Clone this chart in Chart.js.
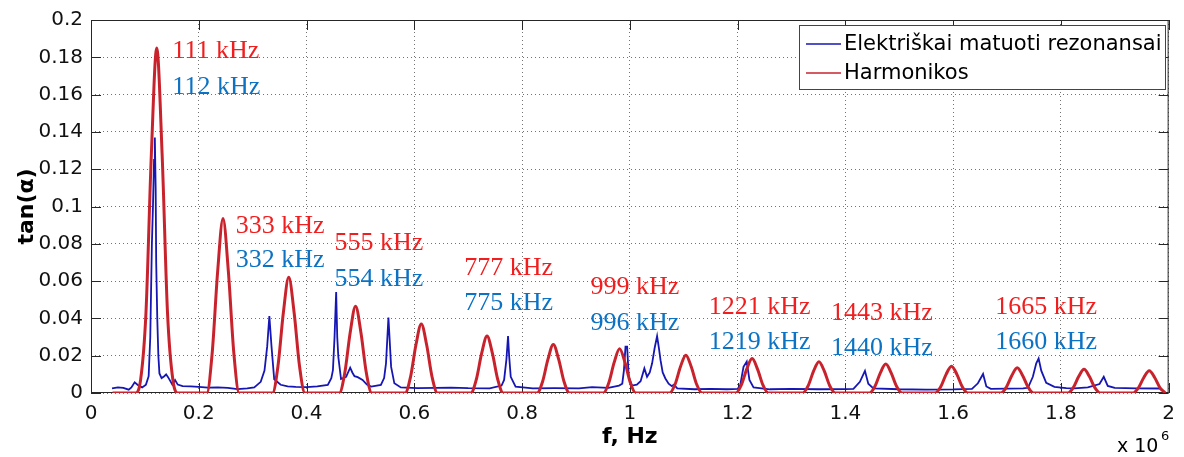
<!DOCTYPE html>
<html>
<head>
<meta charset="utf-8">
<script src="https://cdn.jsdelivr.net/npm/chart.js@4.4.0/dist/chart.umd.min.js"></script>
<style>
    html, body { margin: 0; padding: 0; background: #fff; }
    #wrap { width: 1184px; height: 457px; position: relative; }
</style>
</head>
<body>
<div id="wrap"><canvas id="chart"></canvas></div>
<script>
// ===== DATA (f in units of 10^6 Hz) =====
const xTicks = [0, 0.2, 0.4, 0.6, 0.8, 1, 1.2, 1.4, 1.6, 1.8, 2];
const yTicks = [0, 0.02, 0.04, 0.06, 0.08, 0.1, 0.12, 0.14, 0.16, 0.18, 0.2];

const seriesNames = ['Elektriškai matuoti rezonansai', 'Harmonikos'];

// measured resonances (blue)
const measFreq = [
    0.039, 0.05, 0.06, 0.07, 0.075, 0.081, 0.088, 0.095, 0.102, 0.107,
    0.110, 0.113, 0.115, 0.117, 0.1185, 0.120, 0.121, 0.123, 0.125, 0.127,
    0.131, 0.136, 0.1395, 0.143, 0.147, 0.151, 0.156, 0.161, 0.170, 0.185,
    0.2, 0.217, 0.235, 0.254, 0.272, 0.29, 0.303, 0.315, 0.322, 0.327,
    0.331, 0.335, 0.340, 0.352, 0.365, 0.38, 0.40, 0.42, 0.4395, 0.446,
    0.449, 0.452, 0.455, 0.457, 0.459, 0.464, 0.4735, 0.481, 0.485, 0.489,
    0.495, 0.504, 0.512, 0.52, 0.538, 0.544, 0.5475, 0.552, 0.554, 0.557,
    0.563, 0.575, 0.606, 0.64, 0.668, 0.70, 0.74, 0.762, 0.7667, 0.771,
    0.774, 0.776, 0.779, 0.788, 0.82, 0.86, 0.9056, 0.93, 0.96, 0.98,
    0.986, 0.989, 0.992, 0.995, 0.998, 1.004, 1.013, 1.020, 1.027, 1.032,
    1.037, 1.0414, 1.046, 1.0506, 1.054, 1.057, 1.061, 1.066, 1.072, 1.078,
    1.082, 1.088, 1.12, 1.15, 1.18, 1.2, 1.205, 1.211, 1.217, 1.222,
    1.2296, 1.26, 1.3, 1.35, 1.4, 1.415, 1.427, 1.4364, 1.4426, 1.452,
    1.5, 1.55, 1.6, 1.635, 1.646, 1.6556, 1.6617, 1.67, 1.7, 1.73,
    1.739, 1.748, 1.7543, 1.7587, 1.7636, 1.7728, 1.788, 1.81, 1.825, 1.85,
    1.8717, 1.8796, 1.887, 1.9, 1.94, 1.986
];
const measTan = [
    0.0025, 0.003, 0.0028, 0.0018, 0.003, 0.0057, 0.004, 0.003, 0.0045, 0.009,
    0.03, 0.08, 0.1, 0.125, 0.137, 0.11, 0.07, 0.04, 0.02, 0.0105,
    0.008, 0.009, 0.010, 0.0085, 0.0065, 0.0045, 0.007, 0.0045, 0.0037, 0.0035,
    0.0033, 0.0029, 0.003, 0.0027, 0.0021, 0.0025, 0.003, 0.006, 0.012, 0.025,
    0.0412, 0.025, 0.0074, 0.0044, 0.0035, 0.0033, 0.0032, 0.0036, 0.0043, 0.008,
    0.0123, 0.03, 0.0542, 0.03, 0.0194, 0.0075, 0.0087, 0.0136, 0.011, 0.009,
    0.0085, 0.007, 0.0045, 0.0034, 0.0043, 0.008, 0.0159, 0.0405, 0.03, 0.014,
    0.0052, 0.003, 0.0026, 0.0027, 0.0029, 0.0026, 0.0025, 0.004, 0.007, 0.018,
    0.0305, 0.02, 0.0087, 0.0034, 0.0025, 0.0026, 0.0025, 0.0032, 0.0028, 0.004,
    0.005, 0.012, 0.0248, 0.0248, 0.0087, 0.004, 0.0045, 0.0063, 0.0132, 0.0087,
    0.011, 0.0159, 0.024, 0.0305, 0.024, 0.0176, 0.011, 0.0078, 0.005, 0.0037,
    0.0045, 0.0025, 0.002, 0.0022, 0.002, 0.0022, 0.0043, 0.014, 0.0168, 0.007,
    0.003, 0.002, 0.0022, 0.002, 0.0021, 0.0022, 0.006, 0.0119, 0.005, 0.0025,
    0.002, 0.0018, 0.0019, 0.0022, 0.0052, 0.0102, 0.0035, 0.0022, 0.0023, 0.0025,
    0.0028, 0.0087, 0.0159, 0.0185, 0.012, 0.0055, 0.0033, 0.0026, 0.0025, 0.003,
    0.0048, 0.0087, 0.0038, 0.0027, 0.0025, 0.0024
];

// harmonics (red)
const harmFreq = [
    0.04,
    0.082, 0.092, 0.102, 0.112, 0.122, 0.132, 0.142, 0.152, 0.162,
    0.215, 0.225, 0.235, 0.245, 0.255, 0.265, 0.275,
    0.337, 0.347, 0.357, 0.367, 0.377, 0.387, 0.397,
    0.461, 0.471, 0.481, 0.491, 0.501, 0.511, 0.521,
    0.583, 0.593, 0.603, 0.613, 0.623, 0.633, 0.643,
    0.705, 0.715, 0.725, 0.735, 0.745, 0.755, 0.765,
    0.828, 0.838, 0.848, 0.858, 0.868, 0.878, 0.888,
    0.951, 0.961, 0.971, 0.981, 0.991, 1.001, 1.011,
    1.074, 1.084, 1.094, 1.104, 1.114, 1.124, 1.134,
    1.197, 1.207, 1.217, 1.227, 1.237, 1.247, 1.257,
    1.321, 1.331, 1.341, 1.351, 1.361, 1.371, 1.381,
    1.445, 1.455, 1.465, 1.475, 1.485, 1.495, 1.505,
    1.567, 1.577, 1.587, 1.597, 1.607, 1.617, 1.627,
    1.689, 1.699, 1.709, 1.719, 1.729, 1.739, 1.749,
    1.813, 1.823, 1.833, 1.843, 1.853, 1.863, 1.873,
    1.934, 1.944, 1.954, 1.964, 1.974, 1.984, 1.994
];
const harmTan = [
    0,
    0, 0.007, 0.043, 0.128, 0.185, 0.128, 0.043, 0.007, 0,
    0, 0.0217, 0.0649, 0.0935, 0.0649, 0.0217, 0,
    0, 0.0144, 0.0430, 0.062, 0.0430, 0.0144, 0,
    0, 0.0108, 0.0323, 0.0465, 0.0323, 0.0108, 0,
    0, 0.0086, 0.0257, 0.037, 0.0257, 0.0086, 0,
    0, 0.0071, 0.0212, 0.0305, 0.0212, 0.0071, 0,
    0, 0.0060, 0.0180, 0.026, 0.0180, 0.0060, 0,
    0, 0.0055, 0.0164, 0.0237, 0.0164, 0.0055, 0,
    0, 0.0047, 0.0141, 0.0203, 0.0141, 0.0047, 0,
    0, 0.0043, 0.0128, 0.0185, 0.0128, 0.0043, 0,
    0, 0.0039, 0.0117, 0.0168, 0.0117, 0.0039, 0,
    0, 0.0036, 0.0108, 0.0155, 0.0108, 0.0036, 0,
    0, 0.0033, 0.0100, 0.0144, 0.0100, 0.0033, 0,
    0, 0.0032, 0.0094, 0.0136, 0.0094, 0.0032, 0,
    0, 0.0029, 0.0088, 0.0127, 0.0088, 0.0029, 0,
    0, 0.0028, 0.0083, 0.0119, 0.0083, 0.0028, 0
];

// peak annotations
const harmLabels = ['111 kHz', '333 kHz', '555 kHz', '777 kHz', '999 kHz', '1221 kHz', '1443 kHz', '1665 kHz'];
const measLabels = ['112 kHz', '332 kHz', '554 kHz', '775 kHz', '996 kHz', '1219 kHz', '1440 kHz', '1660 kHz'];
// where each label pair sits (axis units)
const labelAtX = [0.151, 0.2685, 0.4519, 0.6926, 0.9272, 1.1463, 1.3735, 1.678];
const harmLabelAtY = [0.1797, 0.0856, 0.0765, 0.0631, 0.0529, 0.0426, 0.0394, 0.0426];
const measLabelAtY = [0.1604, 0.0674, 0.0572, 0.0444, 0.0340, 0.0234, 0.0203, 0.0234];

// ===== STYLE =====
const BLUE = '#1616b4';
const RED = '#c8232c';
const LABEL_RED = '#f01e1e';
const LABEL_BLUE = '#0b72c4';
const AXIS = '#262626';

Chart.defaults.font.family = '"DejaVu Sans", sans-serif';
Chart.defaults.color = '#111';

function fmt(v) {
    return String(Number(v.toFixed(2)));
}

// MATLAB style box + inward ticks
const matlabFrame = {
    id: 'matlabFrame',
    beforeDatasetsDraw(chart) {
        const { ctx, chartArea: a, scales: { x, y } } = chart;
        ctx.save();
        ctx.strokeStyle = AXIS;
        ctx.lineWidth = 1;
        ctx.strokeRect(a.left + 0.5, a.top + 0.5, a.width - 1, a.height - 1);
        ctx.beginPath();
        xTicks.forEach(v => {
            const px = Math.round(x.getPixelForValue(v)) + 0.5;
            ctx.moveTo(px, a.bottom); ctx.lineTo(px, a.bottom - 10);
            ctx.moveTo(px, a.top); ctx.lineTo(px, a.top + 10);
        });
        yTicks.forEach(v => {
            const py = Math.round(y.getPixelForValue(v)) + 0.5;
            ctx.moveTo(a.left, py); ctx.lineTo(a.left + 10, py);
            ctx.moveTo(a.right, py); ctx.lineTo(a.right - 10, py);
        });
        ctx.stroke();
        ctx.restore();
    },
    afterDraw(chart) {
        const { ctx, chartArea: a, scales: { x, y } } = chart;
        ctx.save();

        // peak labels
        ctx.font = '26px "Liberation Serif", "Times New Roman", serif';
        ctx.textAlign = 'left';
        ctx.textBaseline = 'alphabetic';
        labelAtX.forEach((lx, i) => {
            const px = x.getPixelForValue(lx);
            ctx.fillStyle = LABEL_RED;
            ctx.fillText(harmLabels[i], px, y.getPixelForValue(harmLabelAtY[i]));
            ctx.fillStyle = LABEL_BLUE;
            ctx.fillText(measLabels[i], px, y.getPixelForValue(measLabelAtY[i]));
        });

        // axis titles
        ctx.fillStyle = '#000';
        ctx.font = 'bold 22px "DejaVu Sans", sans-serif';
        ctx.textAlign = 'center';
        ctx.fillText('f, Hz', (a.left + a.right) / 2, 443);
        ctx.save();
        ctx.translate(33, (a.top + a.bottom) / 2);
        ctx.rotate(-Math.PI / 2);
        ctx.fillText('tan(\u03b1)', 0, 0);
        ctx.restore();

        // exponent
        ctx.textAlign = 'left';
        ctx.font = '19px "DejaVu Sans", sans-serif';
        ctx.fillText('x 10', 1117, 452);
        ctx.font = '13px "DejaVu Sans", sans-serif';
        ctx.fillText('6', 1161, 440);

        // legend
        const lx = 799, ly = 25, lw = 366, lh = 64;
        ctx.fillStyle = '#fff';
        ctx.fillRect(lx, ly, lw, lh);
        ctx.strokeStyle = '#444';
        ctx.lineWidth = 1;
        ctx.strokeRect(lx + 0.5, ly + 0.5, lw, lh);
        const rowsY = [44, 73];
        chart.data.datasets.forEach((ds, i) => {
            ctx.strokeStyle = ds.borderColor;
            ctx.lineWidth = 1.5;
            ctx.beginPath();
            ctx.moveTo(806, rowsY[i]);
            ctx.lineTo(841, rowsY[i]);
            ctx.stroke();
            ctx.fillStyle = '#000';
            ctx.font = '21px "DejaVu Sans", sans-serif';
            ctx.textBaseline = 'middle';
            ctx.fillText(ds.label, 844, rowsY[i] + 1);
        });
        ctx.restore();
    }
};

const gridOpts = {
    color: 'rgba(0,0,0,0.55)',
    lineWidth: 1,
    drawTicks: false
};

new Chart(document.getElementById('chart'), {
    type: 'line',
    data: {
        datasets: [{
            label: seriesNames[0],
            data: measFreq.map((f, i) => ({ x: f, y: measTan[i] })),
            borderColor: BLUE,
            borderWidth: 1.8,
            pointRadius: 0,
            tension: 0,
            order: 1
        }, {
            label: seriesNames[1],
            data: harmFreq.map((f, i) => ({ x: f, y: harmTan[i] })),
            borderColor: RED,
            borderWidth: 3,
            pointRadius: 0,
            cubicInterpolationMode: 'monotone',
            order: 0
        }]
    },
    options: {
        responsive: true,
        maintainAspectRatio: false,
        animation: false,
        layout: { padding: { top: 19, right: 13, left: 0, bottom: 0 } },
        plugins: {
            legend: { display: false },
            tooltip: { enabled: false }
        },
        scales: {
            x: {
                type: 'linear',
                min: 0,
                max: 2,
                afterFit: s => { s.height = 64; },
                afterBuildTicks: s => { s.ticks = xTicks.map(v => ({ value: v })); },
                ticks: {
                    font: { size: 20 },
                    color: '#111',
                    padding: 9,
                    maxRotation: 0,
                    autoSkip: false,
                    callback: v => fmt(v)
                },
                grid: gridOpts,
                border: { display: false, dash: [1, 3] }
            },
            y: {
                min: 0,
                max: 0.2,
                afterFit: s => { s.width = 91; },
                afterBuildTicks: s => { s.ticks = yTicks.map(v => ({ value: v })); },
                ticks: {
                    font: { size: 20 },
                    color: '#111',
                    padding: 8,
                    autoSkip: false,
                    callback: v => fmt(v)
                },
                grid: gridOpts,
                border: { display: false, dash: [1, 3] }
            }
        }
    },
    plugins: [matlabFrame]
});
</script>
</body>
</html>
